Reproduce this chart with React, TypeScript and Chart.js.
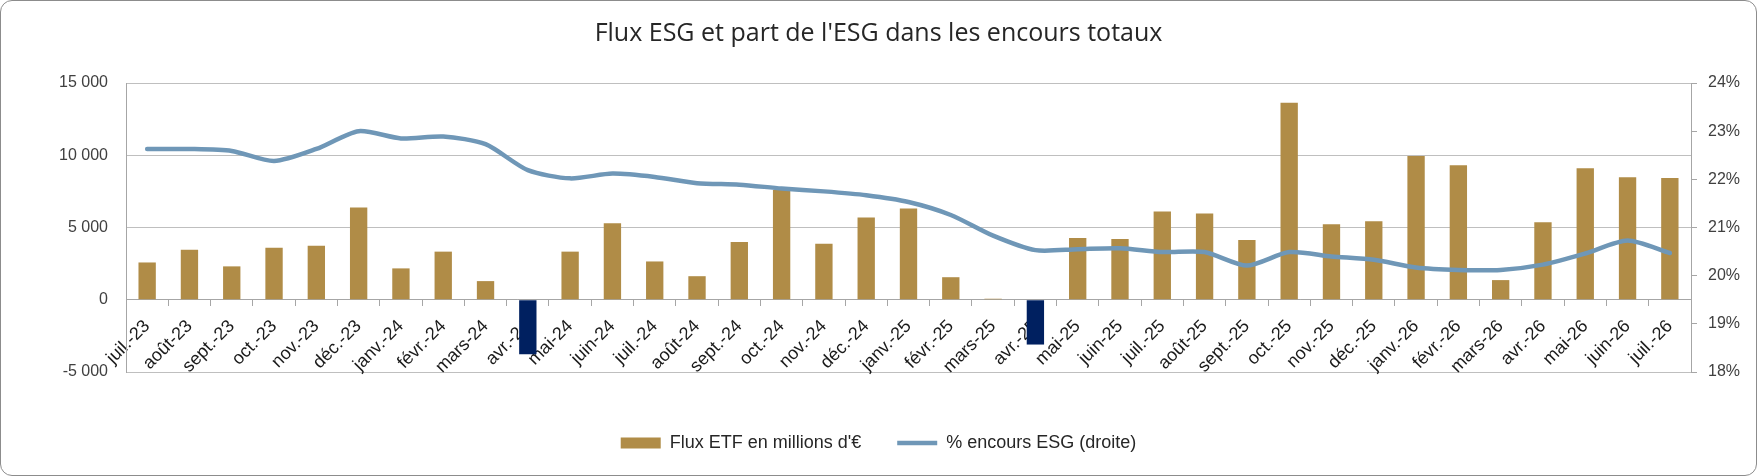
import { useEffect, useRef } from "react";
import Chart from "chart.js/auto";

// mois (axe X)
const labels = [
  "juil.-23", "août-23", "sept.-23", "oct.-23", "nov.-23", "déc.-23",
  "janv.-24", "févr.-24", "mars-24", "avr.-24", "mai-24", "juin-24",
  "juil.-24", "août-24", "sept.-24", "oct.-24", "nov.-24", "déc.-24",
  "janv.-25", "févr.-25", "mars-25", "avr.-25", "mai-25", "juin-25",
  "juil.-25", "août-25", "sept.-25", "oct.-25", "nov.-25", "déc.-25",
  "janv.-26", "févr.-26", "mars-26", "avr.-26", "mai-26", "juin-26",
  "juil.-26",
];

// flux ETF en millions d'€ (axe gauche)
const flux = [
  2580, 3460, 2310, 3600, 3730, 6380,
  2170, 3330, 1290, -3780, 3330, 5290,
  2650, 1630, 4000, 7600, 3870, 5700,
  6310, 1560, 70, -3100, 4280, 4210,
  6110, 5970, 4140, 13640, 5230, 5430,
  9950, 9300, 1360, 5360, 9100, 8480,
  8420,
];

// % encours ESG (axe droit)
const partEsg = [
  22.63, 22.63, 22.59, 22.38, 22.63, 23.0,
  22.85, 22.89, 22.73, 22.19, 22.02, 22.12,
  22.05, 21.92, 21.89, 21.81, 21.75, 21.67,
  21.53, 21.26, 20.83, 20.53, 20.55, 20.57,
  20.49, 20.49, 20.21, 20.49, 20.4, 20.33,
  20.17, 20.12, 20.12, 20.23, 20.46, 20.73,
  20.47,
];

const leftTicks = [-5000, 0, 5000, 10000, 15000];
const rightTicks = [18, 19, 20, 21, 22, 23, 24];

const GOLD = "#b08c47";
const NAVY = "#002060";
const BLUE = "#6f97b7";

const fmtNumber = (v: number) => {
  const s = Math.abs(v).toString().replace(/\B(?=(\d{3})+(?!\d))/g, " ");
  return (v < 0 ? "-" : "") + s;
};

export default function App() {
  const chartRef = useRef<HTMLCanvasElement>(null);
  const chartInstance = useRef<Chart | null>(null);

  useEffect(() => {
    document.body.style.margin = "0";
    if (!chartRef.current) return;
    const ctx = chartRef.current.getContext("2d");
    if (!ctx) return;

    if (chartInstance.current) {
      chartInstance.current.destroy();
    }

    chartInstance.current = new Chart(ctx, {
      type: "bar",
      data: {
        labels,
        datasets: [
          {
            type: "bar",
            label: "Flux ETF en millions d'€",
            data: flux,
            backgroundColor: flux.map((v) => (v < 0 ? NAVY : GOLD)),
            borderWidth: 0,
            barPercentage: 0.41,
            categoryPercentage: 1,
            yAxisID: "y",
            order: 2,
            pointStyle: "rect",
          },
          {
            type: "line",
            label: "% encours ESG (droite)",
            data: partEsg,
            borderColor: BLUE,
            backgroundColor: BLUE,
            borderWidth: 4.5,
            pointRadius: 0,
            tension: 0.25,
            yAxisID: "y1",
            order: 1,
            pointStyle: "line",
            borderCapStyle: "round",
          },
        ],
      },
      options: {
        responsive: false,
        animation: false,
        layout: {
          padding: { top: 0, left: 0, right: 0, bottom: 14 },
        },
        plugins: {
          title: {
            display: true,
            text: "Flux ESG et part de l'ESG dans les encours totaux",
            color: "#262626",
            font: { family: "'Open Sans'", size: 25, weight: "normal" },
            padding: { top: 19, bottom: 34 },
          },
          legend: {
            position: "bottom",
            // titre vide : sert seulement d'espace au-dessus de la légende
            title: { display: true, text: "", font: { size: 10 }, padding: 7 },
            labels: {
              usePointStyle: true,
              pointStyleWidth: 40,
              boxHeight: 11,
              padding: 36,
              color: "#262626",
              font: { family: "'Liberation Sans'", size: 18 },
              sort: (a, b) => (a.datasetIndex ?? 0) - (b.datasetIndex ?? 0),
            },
          },
          tooltip: { enabled: false },
        },
        scales: {
          x: {
            position: { y: 0 },
            grid: {
              display: true,
              drawOnChartArea: false,
              drawTicks: true,
              tickLength: 6,
              color: "#a6a6a6",
              offset: true,
            },
            border: { display: true, color: "#a6a6a6" },
            ticks: {
              autoSkip: false,
              maxRotation: 45,
              minRotation: 45,
              padding: 10,
              color: "#1a1a1a",
              font: { family: "'Liberation Sans'", size: 18 },
            },
          },
          y: {
            position: "left",
            min: -5000,
            max: 15000,
            afterBuildTicks: (scale) => {
              scale.ticks = leftTicks.map((value) => ({ value }));
            },
            afterFit: (scale) => {
              scale.width = 126;
            },
            grid: { color: "#bfbfbf", drawTicks: false },
            border: { display: true, color: "#a6a6a6" },
            ticks: {
              padding: 18,
              color: "#404040",
              font: { family: "'Liberation Sans'", size: 16 },
              callback: (v) => fmtNumber(Number(v)),
            },
          },
          y1: {
            position: "right",
            min: 18,
            max: 24,
            afterBuildTicks: (scale) => {
              scale.ticks = rightTicks.map((value) => ({ value }));
            },
            afterFit: (scale) => {
              scale.width = 66;
            },
            grid: {
              drawOnChartArea: false,
              drawTicks: true,
              tickLength: 6,
              color: "#a6a6a6",
            },
            border: { display: true, color: "#a6a6a6" },
            ticks: {
              padding: 11,
              color: "#404040",
              font: { family: "'Liberation Sans'", size: 16 },
              callback: (v) => `${v}%`,
            },
          },
        },
      },
    });

    return () => {
      if (chartInstance.current) {
        chartInstance.current.destroy();
        chartInstance.current = null;
      }
    };
  }, []);

  return (
    <div style={{ position: "fixed", top: 0, left: 0, width: 1757, height: 476, background: "#fff" }}>
      <canvas ref={chartRef} width={1757} height={476}></canvas>
      <div
        style={{
          position: "absolute",
          inset: 0,
          border: "1.5px solid #8c8c8c",
          borderRadius: 12,
          pointerEvents: "none",
        }}
      />
    </div>
  );
}
